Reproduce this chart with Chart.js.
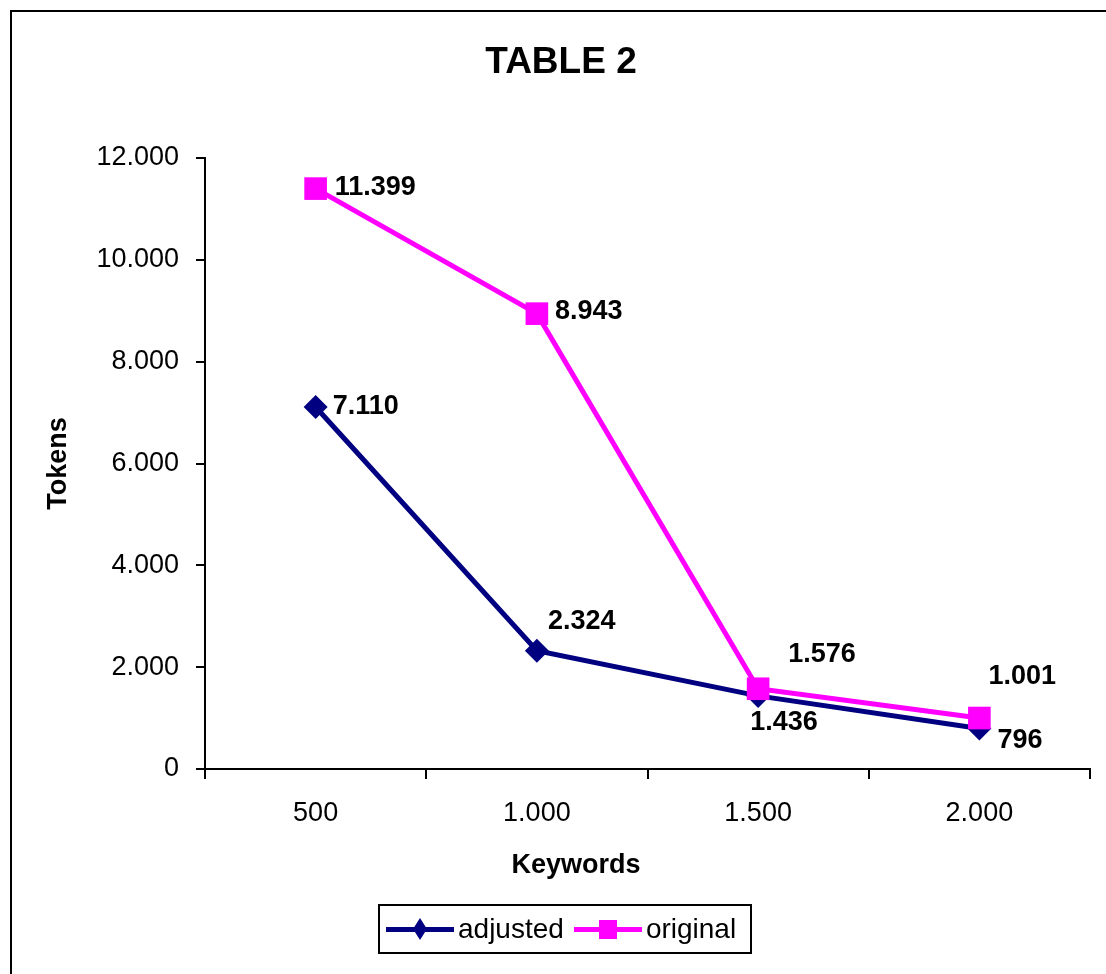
<!DOCTYPE html>
<html>
<head>
<meta charset="utf-8">
<script src="https://cdn.jsdelivr.net/npm/chart.js@4"></script>
<style>
  body { margin: 0; background: #fff; font-family: "Liberation Sans", Arial, sans-serif; }
  #wrap { position: relative; width: 1106px; height: 974px; overflow: hidden; }
  #frame { position: absolute; left: 10px; top: 10px; width: 1200px; height: 1200px;
           border-left: 2px solid #000; border-top: 2px solid #000; }
  #chart { position: absolute; left: 0; top: 0; }
  #xtitle { position: absolute; left: 476px; width: 200px; top: 848px; line-height: 32px;
            text-align: center; font-weight: bold; font-size: 27px; color: #000; }
  #legend { position: absolute; left: 378px; top: 904px; width: 370px; height: 46px;
            border: 2px solid #000; display: flex; align-items: center; font-size: 28px; color: #000; }
  #legend .item { display: flex; align-items: center; }
  #legend svg { display: block; }
</style>
</head>
<body>
<div id="wrap">
  <div id="frame"></div>
  <canvas id="chart" width="1106" height="974"></canvas>
  <div id="xtitle">Keywords</div>
  <div id="legend"></div>
</div>
<script>
// chart data
const categories = ['500', '1.000', '1.500', '2.000'];
const adjusted = [7110, 2324, 1436, 796];
const original = [11399, 8943, 1576, 1001];
const yTicks = [0, 2000, 4000, 6000, 8000, 10000, 12000];

const FONT = '"Liberation Sans", Arial, sans-serif';
const NAVY = '#000080';
const PINK = '#ff00ff';

// thousands with a dot, like the source
function fmt(v) {
  return String(Math.round(v)).replace(/\B(?=(\d{3})+(?!\d))/g, '.');
}

// where each value label sits relative to its point
const labelOffsets = [
  [[17, 0], [11, -29], [-8, 27], [18, 12]],
  [[19, -1], [18, -2], [30, -34], [9, -41]]
];

const valueLabels = {
  id: 'valueLabels',
  afterDatasetsDraw(chart) {
    const ctx = chart.ctx;
    ctx.save();
    ctx.font = 'bold 27px ' + FONT;
    ctx.fillStyle = '#000';
    ctx.textAlign = 'left';
    ctx.textBaseline = 'middle';
    chart.data.datasets.forEach((ds, i) => {
      const meta = chart.getDatasetMeta(i);
      meta.data.forEach((pt, j) => {
        const off = labelOffsets[i][j];
        ctx.fillText(fmt(ds.data[j]), pt.x + off[0], pt.y + off[1]);
      });
    });
    ctx.restore();
  }
};

const ctx = document.getElementById('chart').getContext('2d');
const chart = new Chart(ctx, {
  type: 'line',
  data: {
    labels: categories,
    datasets: [{
      label: 'adjusted',
      data: adjusted,
      borderColor: NAVY,
      backgroundColor: NAVY,
      borderWidth: 5,
      pointStyle: 'rectRot',
      pointRadius: 12,
      pointBorderWidth: 0,
      tension: 0,
      order: 1
    }, {
      label: 'original',
      data: original,
      borderColor: PINK,
      backgroundColor: PINK,
      borderWidth: 5,
      pointStyle: 'rect',
      pointRadius: 16,
      pointBorderWidth: 0,
      tension: 0,
      order: 0
    }]
  },
  options: {
    responsive: false,
    animation: false,
    layout: { padding: { left: 32, right: 16, top: 10, bottom: 145 } },
    plugins: {
      legend: { display: false },
      tooltip: { enabled: false },
      title: {
        display: true,
        text: 'TABLE 2',
        color: '#000',
        font: { family: FONT, size: 37, weight: 'bold' },
        padding: { top: 31, bottom: 72.6 }
      }
    },
    scales: {
      x: {
        offset: true,
        afterFit: (s) => { s.height = 60; },
        grid: { offset: true, drawOnChartArea: false, drawTicks: true, tickLength: 10, color: '#000', lineWidth: 2 },
        border: { display: true, color: '#000', width: 2 },
        ticks: { color: '#000', padding: 18, font: { family: FONT, size: 27 } }
      },
      y: {
        min: 0,
        max: 12000,
        afterFit: (s) => { s.width = 173; },
        afterBuildTicks: (s) => { s.ticks = yTicks.map(v => ({ value: v })); },
        grid: { drawOnChartArea: false, drawTicks: true, tickLength: 9, color: '#000', lineWidth: 2 },
        border: { display: true, color: '#000', width: 2 },
        ticks: { color: '#000', padding: 17, font: { family: FONT, size: 27 }, callback: (v) => fmt(v) },
        title: {
          display: true,
          text: 'Tokens',
          color: '#000',
          font: { family: FONT, size: 27, weight: 'bold' },
          padding: { top: 10 }
        }
      }
    }
  },
  plugins: [valueLabels]
});

// legend with line + marker like the source
const legend = document.getElementById('legend');
const legendItems = [
  { text: 'adjusted', color: NAVY, marker: '<polygon points="34,0 41,11 34,22 27,11" />' },
  { text: 'original', color: PINK, marker: '<rect x="25" y="2" width="18" height="19" />' }
];
legendItems.forEach((it, i) => {
  const el = document.createElement('div');
  el.className = 'item';
  el.style.marginLeft = i === 0 ? '6px' : '10px';
  el.innerHTML =
    '<svg width="68" height="22" fill="' + it.color + '">' +
    '<rect x="0" y="9" width="68" height="5" />' + it.marker + '</svg>' +
    '<span style="margin-left:4px">' + it.text + '</span>';
  legend.appendChild(el);
});
</script>
</body>
</html>
